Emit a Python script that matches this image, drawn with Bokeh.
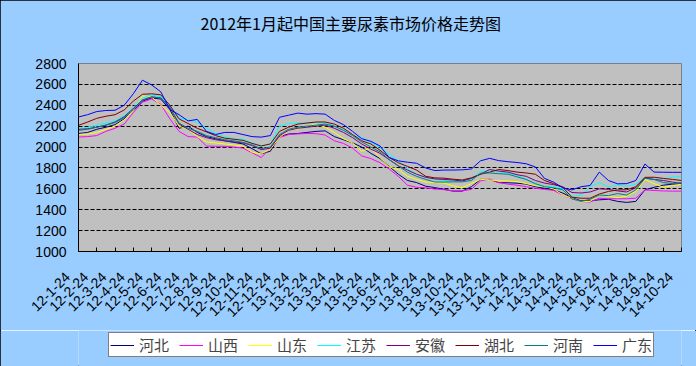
from math import pi
from bokeh.plotting import figure
from bokeh.layouts import column
from bokeh.models import FixedTicker, Legend, LegendItem, LinearAxis, Title
from bokeh.embed import file_html
from bokeh.resources import INLINE

title_text = "2012年1月起中国主要尿素市场价格走势图"

tick_labels = ["12-1-24", "12-2-24", "12-3-24", "12-4-24", "12-5-24", "12-6-24",
               "12-7-24", "12-8-24", "12-9-24", "12-10-24", "12-11-24", "12-12-24",
               "13-1-24", "13-2-24", "13-3-24", "13-4-24", "13-5-24", "13-6-24",
               "13-7-24", "13-8-24", "13-9-24", "13-10-24", "13-11-24", "13-12-24",
               "14-1-24", "14-2-24", "14-3-24", "14-4-24", "14-5-24", "14-6-24",
               "14-7-24", "14-8-24", "14-9-24", "14-10-24"]
tick_pos = list(range(len(tick_labels)))

# half-month sampling positions (0 = 12-1-24 ... 33 = 14-10-24)
x_pos = [k / 2 for k in range(67)]

hebei = [2130, 2140, 2170, 2190, 2215, 2270, 2350, 2440, 2470, 2460, 2360, 2180, 2200, 2140, 2100, 2080, 2060,
         2045, 2030, 1985, 1935, 1960, 2100, 2125, 2130, 2140, 2150, 2155, 2100, 2070, 2040, 2000, 1940,
         1890, 1815, 1740, 1680, 1660, 1625, 1612, 1596, 1578, 1578, 1620, 1690, 1690, 1660, 1658, 1654,
         1645, 1620, 1605, 1590, 1560, 1515, 1485, 1485, 1495, 1500, 1480, 1470, 1480, 1590, 1615, 1635, 1645, 1648]
shanxi = [2096, 2100, 2110, 2150, 2180, 2220, 2330, 2430, 2460, 2410, 2270, 2150, 2100, 2096, 2010, 2007, 2007,
          2000, 1990, 1945, 1900, 1990, 2090, 2120, 2126, 2130, 2128, 2115, 2060, 2035, 1990, 1915, 1890,
          1850, 1790, 1720, 1635, 1615, 1610, 1598, 1592, 1580, 1580, 1595, 1675, 1693, 1660, 1645, 1635,
          1620, 1605, 1595, 1585, 1540, 1505, 1478, 1474, 1510, 1505, 1505, 1505, 1510, 1590, 1584, 1580, 1578, 1578]
shandong = [2120, 2125, 2140, 2170, 2200, 2260, 2350, 2490, 2480, 2400, 2330, 2200, 2170, 2100, 2050, 2040, 2030,
            2020, 2010, 1950, 1935, 1980, 2090, 2160, 2175, 2200, 2220, 2190, 2140, 2080, 2040, 1960, 1990,
            1900, 1810, 1785, 1720, 1690, 1665, 1660, 1655, 1628, 1612, 1650, 1690, 1685, 1677, 1675, 1670,
            1650, 1630, 1620, 1600, 1540, 1510, 1475, 1480, 1540, 1530, 1515, 1530, 1575, 1690, 1650, 1616, 1630, 1645]
jiangsu = [2180, 2185, 2210, 2230, 2250, 2300, 2380, 2470, 2500, 2480, 2400, 2280, 2260, 2240, 2180, 2130, 2100,
           2080, 2075, 2040, 2015, 2030, 2200, 2225, 2230, 2230, 2235, 2230, 2200, 2165, 2110, 2090, 2045,
           2000, 1930, 1870, 1790, 1740, 1710, 1690, 1680, 1683, 1680, 1690, 1770, 1773, 1765, 1750, 1730,
           1690, 1645, 1625, 1620, 1600, 1530, 1535, 1620, 1660, 1620, 1635, 1625, 1645, 1710, 1690, 1695, 1710, 1720]
anhui = [2170, 2175, 2190, 2210, 2240, 2290, 2370, 2450, 2480, 2470, 2380, 2220, 2170, 2120, 2090, 2070, 2060,
         2050, 2040, 2015, 1975, 1990, 2110, 2160, 2180, 2190, 2200, 2210, 2180, 2140, 2090, 2030, 1980,
         1940, 1880, 1820, 1780, 1740, 1710, 1695, 1690, 1685, 1675, 1700, 1740, 1785, 1770, 1760, 1735,
         1720, 1680, 1655, 1640, 1620, 1565, 1560, 1570, 1600, 1595, 1580, 1570, 1610, 1705, 1690, 1680, 1665, 1650]
hubei = [2208, 2240, 2275, 2295, 2310, 2355, 2440, 2505, 2510, 2500, 2400, 2270, 2225, 2180, 2145, 2110, 2085,
         2075, 2064, 2035, 2010, 2030, 2150, 2190, 2220, 2230, 2240, 2240, 2220, 2180, 2120, 2060, 2030,
         1970, 1900, 1850, 1815, 1780, 1720, 1705, 1702, 1692, 1685, 1705, 1740, 1760, 1785, 1775, 1760,
         1752, 1740, 1680, 1650, 1615, 1520, 1510, 1510, 1550, 1575, 1590, 1591, 1620, 1710, 1711, 1700, 1690, 1680]
henan = [2160, 2170, 2190, 2210, 2235, 2280, 2360, 2450, 2480, 2470, 2380, 2230, 2180, 2150, 2110, 2090, 2070,
         2060, 2045, 2020, 1985, 2000, 2120, 2170, 2190, 2200, 2210, 2220, 2200, 2160, 2110, 2050, 2000,
         1955, 1880, 1820, 1760, 1720, 1690, 1665, 1665, 1667, 1667, 1680, 1750, 1752, 1745, 1740, 1715,
         1690, 1650, 1620, 1610, 1590, 1505, 1480, 1500, 1540, 1535, 1555, 1540, 1590, 1700, 1690, 1660, 1650, 1660]
guangdong = [2288, 2310, 2340, 2350, 2352, 2400, 2510, 2640, 2595, 2530, 2360, 2310, 2250, 2265, 2150, 2120, 2140,
             2140, 2120, 2100, 2095, 2110, 2285, 2305, 2325, 2315, 2320, 2315, 2255, 2215, 2150, 2080, 2055,
             2010, 1900, 1868, 1855, 1845, 1800, 1775, 1780, 1780, 1782, 1790, 1868, 1892, 1870, 1860, 1852,
             1840, 1810, 1700, 1664, 1610, 1590, 1620, 1632, 1760, 1680, 1648, 1650, 1680, 1838, 1760, 1759, 1758, 1758]

names = ["河北", "山西", "山东", "江苏", "安徽", "湖北", "河南", "广东"]
colors = ["#000080", "#FF00FF", "#FFFF00", "#00FFFF", "#800080", "#800000", "#008080", "#0000FF"]
series = [hebei, shanxi, shandong, jiangsu, anhui, hubei, henan, guangdong]

y_ticks = [1000, 1200, 1400, 1600, 1800, 2000, 2200, 2400, 2600, 2800]

BG = "#99CCFF"

# ---------------- main chart ----------------
p = figure(width=696, height=330, x_range=(0, 33), y_range=(1000, 2800),
           output_backend="svg", toolbar_location=None,
           min_border_left=78, min_border_right=15, min_border_top=63, min_border_bottom=79,
           background_fill_color="#C0C0C0", border_fill_color=BG,
           outline_line_color="#808080")

xax = p.below[0]
yax = p.left[0]

# x axis: tick marks inside, rotated labels (trailing no-break spaces nudge them off the tick)
pad = "\u00a0" * 4
xax.ticker = FixedTicker(ticks=tick_pos)
xax.major_label_overrides = {k: t + pad for k, t in zip(tick_pos, tick_labels)}
xax.major_label_orientation = pi / 4
xax.major_tick_in = 4
xax.major_tick_out = 0
xax.minor_tick_line_color = None
xax.major_label_standoff = 12
xax.major_label_text_font = "Liberation Sans"
xax.major_label_text_font_size = "14px"
xax.major_label_text_color = "black"
xax.axis_line_color = "black"
xax.major_tick_line_color = "black"

yax.ticker = FixedTicker(ticks=y_ticks)
yax.major_tick_in = 0
yax.major_tick_out = 0
yax.minor_tick_line_color = None
yax.major_label_standoff = 12
yax.major_label_text_font = "Liberation Sans"
yax.major_label_text_font_size = "14px"
yax.major_label_text_color = "black"
yax.axis_line_color = "black"

# spacer above the frame, so the title sits near the top of the chart
spacer = LinearAxis(ticker=FixedTicker(ticks=[]), axis_line_color=None,
                    major_tick_line_color=None, minor_tick_line_color=None,
                    major_tick_out=0, major_tick_in=0, major_label_standoff=0,
                    major_label_text_font_size="1px", major_label_text_color=None,
                    axis_label=" ", axis_label_standoff=24, axis_label_text_font_size="1px")
p.add_layout(spacer, "above")

p.title = Title(text=title_text, align="left", offset=122, vertical_align="middle",
                standoff=0, text_font="Noto Sans CJK SC", text_font_size="16px",
                text_font_style="normal", text_color="black")

p.xgrid.visible = False
p.ygrid.grid_line_color = "black"
p.ygrid.grid_line_dash = "4 2"
p.ygrid.grid_line_width = 1

for vals, c in zip(series, colors):
    p.line(x_pos, vals, line_color=c, line_width=1)

# ---------------- legend strip ----------------
q = figure(width=696, height=36, x_range=(0, 1), y_range=(0, 1),
           output_backend="svg", toolbar_location=None,
           x_axis_type=None, y_axis_type=None,
           min_border_left=0, min_border_right=0, min_border_top=0, min_border_bottom=0,
           background_fill_color=BG, border_fill_color=BG, outline_line_color=None)
q.grid.visible = False

nan = float("nan")
keys = [q.line(x=[nan], y=[nan], line_color=c, line_width=1) for c in colors]
legend = Legend(items=[LegendItem(label=n, renderers=[r]) for n, r in zip(names, keys)],
                orientation="horizontal", location=(30, 9),
                label_text_font="Noto Sans CJK SC", label_text_font_size="15px",
                glyph_width=24, glyph_height=16, label_height=16, label_standoff=5,
                spacing=10, padding=1, margin=0,
                border_line_color="black", border_line_width=1,
                background_fill_color="white", background_fill_alpha=1)
q.add_layout(legend)

page = column(p, q, spacing=0, styles={"outline": "1px solid black", "outline-offset": "-1px"})
open("out.html", "w").write(file_html(page, INLINE))
